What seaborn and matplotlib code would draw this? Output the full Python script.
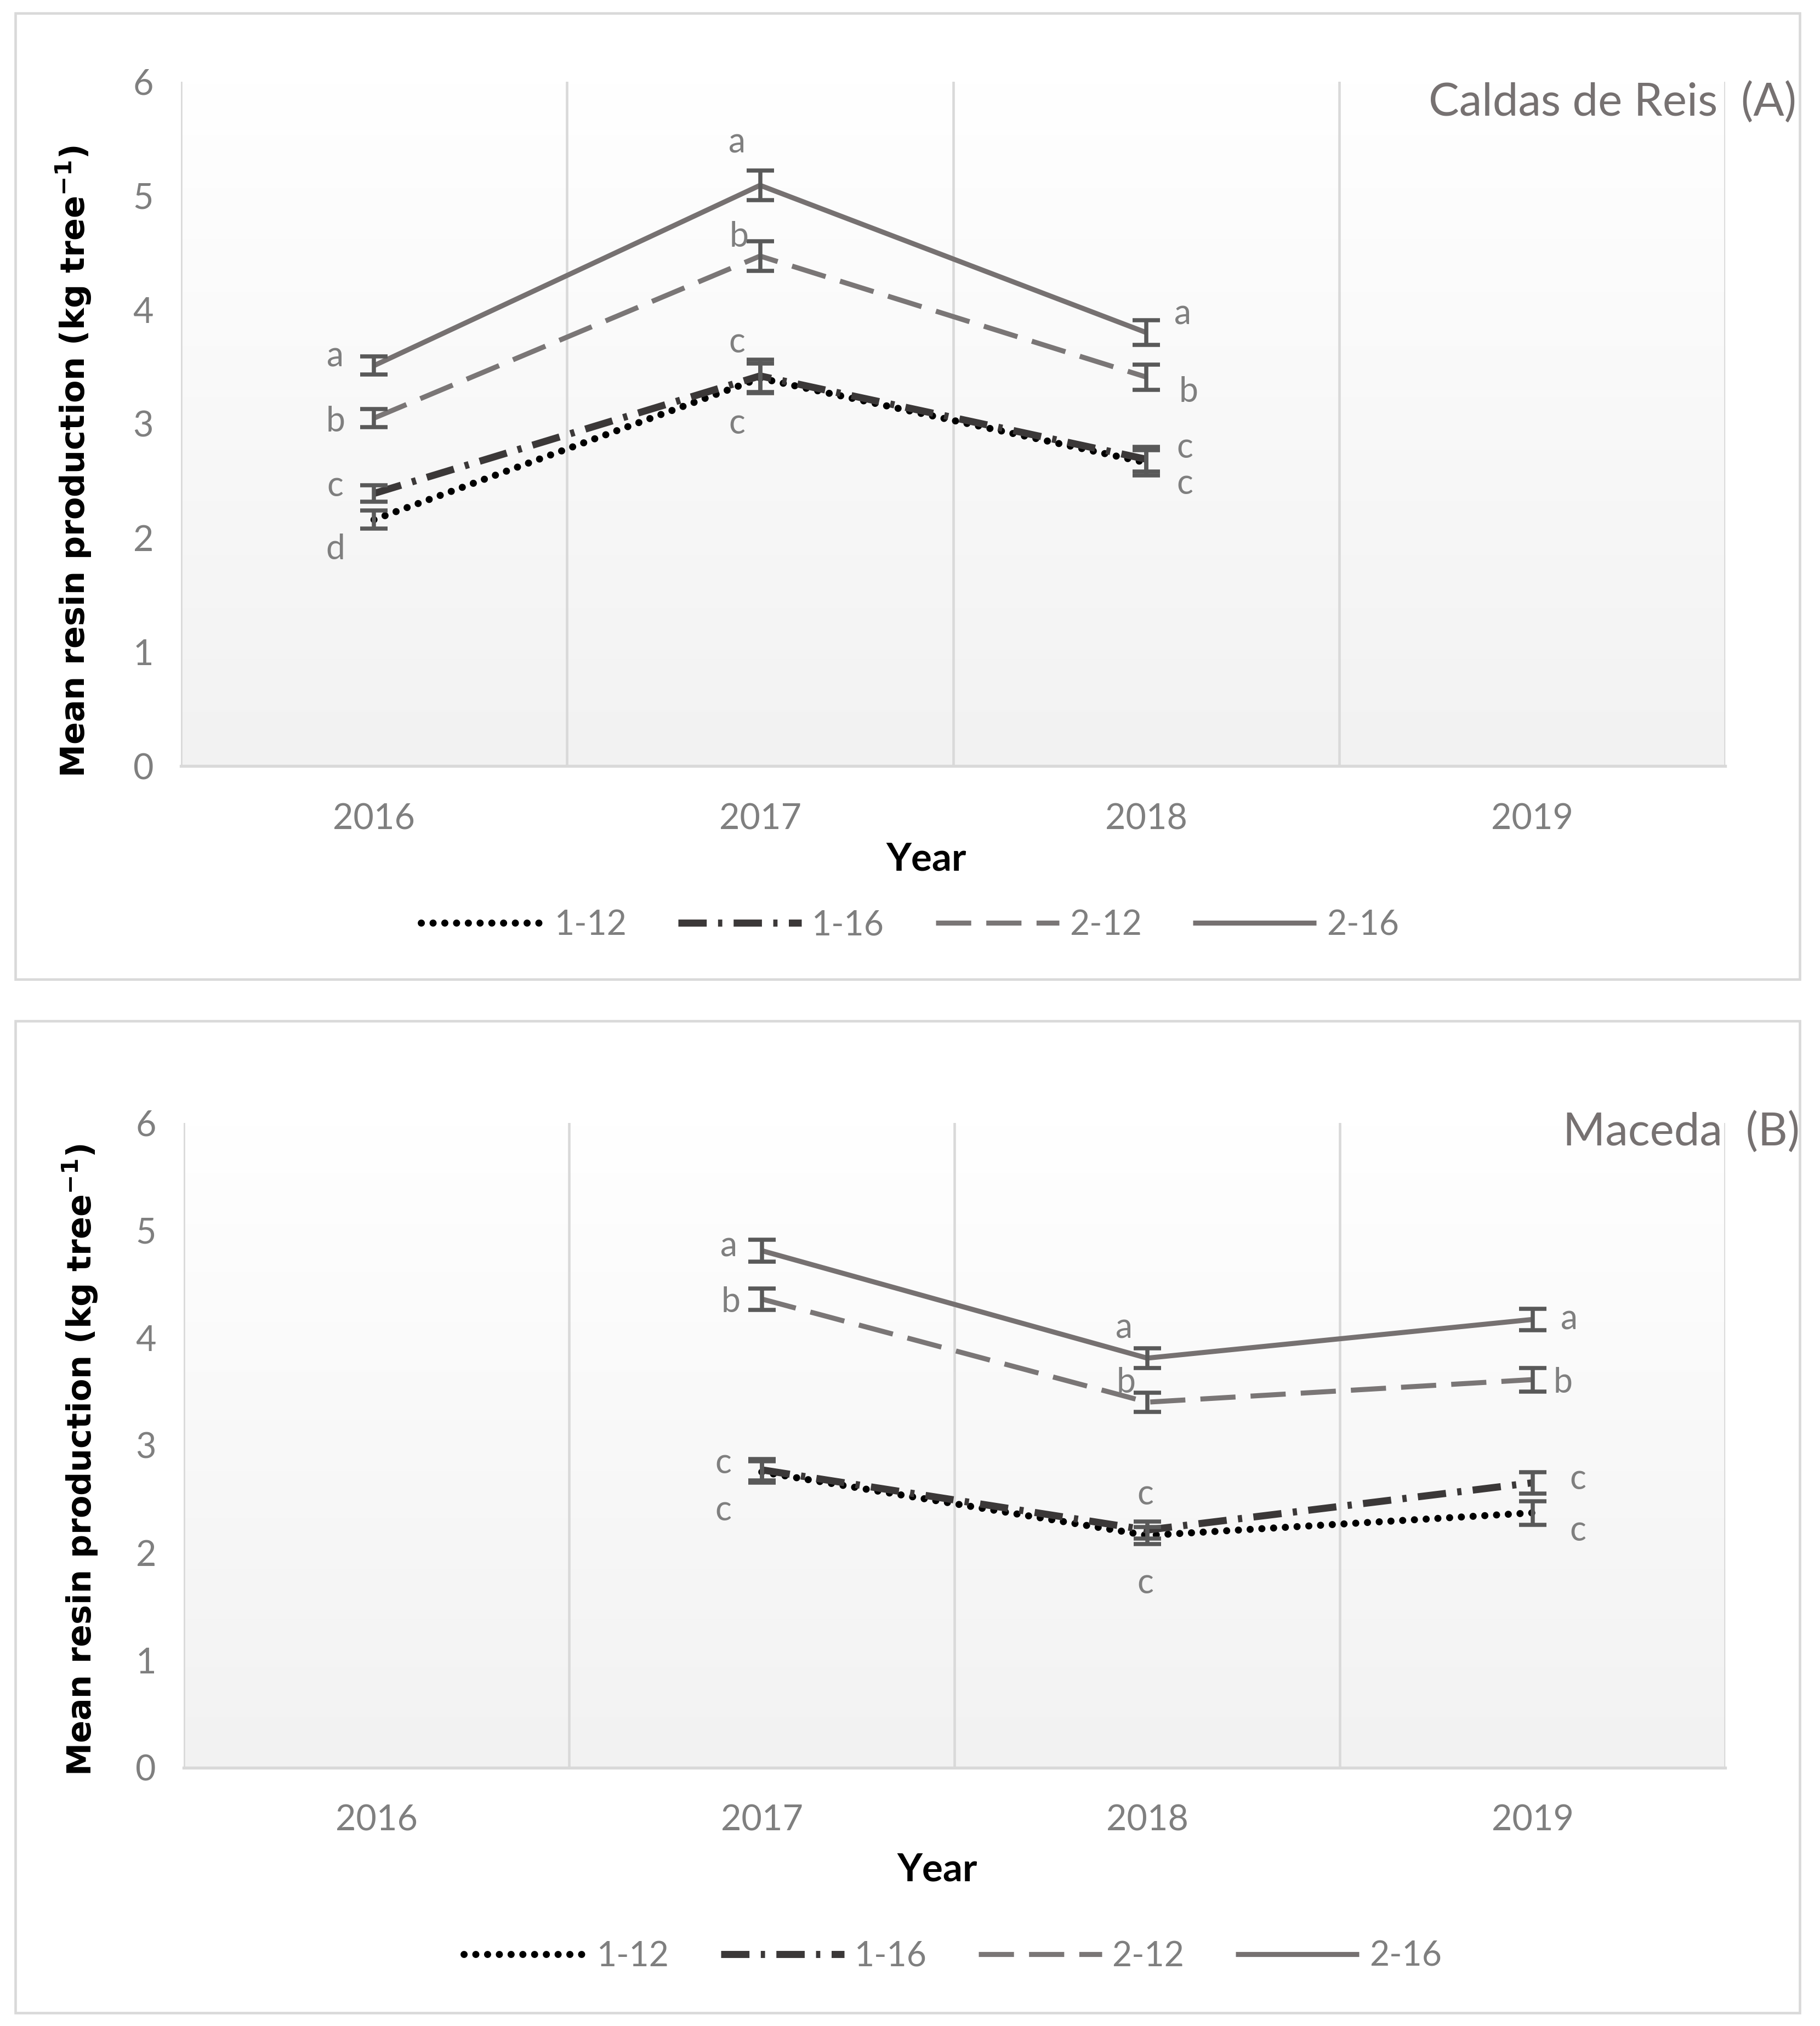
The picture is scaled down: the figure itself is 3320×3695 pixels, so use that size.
import numpy as np
import pandas as pd
import matplotlib
matplotlib.use("Agg")
import matplotlib.pyplot as plt
import seaborn as sns
from matplotlib.patches import Rectangle

# ---------------- data ----------------
years = ["2016", "2017", "2018", "2019"]
series = ["1-12", "1-16", "2-12", "2-16"]

# Panel A: Caldas de Reis
a_years = ["2016", "2017", "2018"]
a_1_12 = [2.16, 3.40, 2.66]
a_1_16 = [2.39, 3.42, 2.69]
a_2_12 = [3.05, 4.47, 3.41]
a_2_16 = [3.51, 5.09, 3.80]
a_err_1_12 = [0.08, 0.13, 0.11]
a_err_1_16 = [0.07, 0.14, 0.11]
a_err_2_12 = [0.08, 0.13, 0.11]
a_err_2_16 = [0.08, 0.13, 0.11]
# letters: (year, letter, y position, x offset)
a_letters = [("2016", "a", 3.59, -0.10), ("2016", "b", 3.02, -0.10),
             ("2016", "c", 2.45, -0.10), ("2016", "d", 1.90, -0.10),
             ("2017", "a", 5.46, -0.06), ("2017", "b", 4.64, -0.055),
             ("2017", "c", 3.71, -0.06), ("2017", "c", 3.00, -0.06),
             ("2018", "a", 3.96, 0.095), ("2018", "b", 3.28, 0.11),
             ("2018", "c", 2.79, 0.10), ("2018", "c", 2.47, 0.10)]

# Panel B: Maceda
b_years = ["2017", "2018", "2019"]
b_1_12 = [2.75, 2.16, 2.37]
b_1_16 = [2.77, 2.21, 2.65]
b_2_12 = [4.36, 3.40, 3.61]
b_2_16 = [4.81, 3.81, 4.17]
b_err_1_12 = [0.10, 0.08, 0.11]
b_err_1_16 = [0.10, 0.08, 0.10]
b_err_2_12 = [0.10, 0.09, 0.11]
b_err_2_16 = [0.10, 0.09, 0.10]
b_letters = [("2017", "a", 4.85, -0.085), ("2017", "b", 4.33, -0.08),
             ("2017", "c", 2.83, -0.10), ("2017", "c", 2.39, -0.10),
             ("2018", "a", 4.09, -0.06), ("2018", "b", 3.58, -0.055),
             ("2018", "c", 2.54, -0.005), ("2018", "c", 1.71, -0.005),
             ("2019", "a", 4.17, 0.095), ("2019", "b", 3.58, 0.078),
             ("2019", "c", 2.68, 0.117), ("2019", "c", 2.20, 0.117)]

# ---------------- style ----------------
sns.set_theme(style="white")
plt.rcParams["font.family"] = ["Lato", "DejaVu Sans"]

TXT_GRAY = "#7f7f7f"
GRID = "#d9d9d9"
styles = {
    "1-12": dict(color="#000000", lw=3.1, ls=(0, (0.01, 1.65)), cap="round"),
    "1-16": dict(color="#3b3838", lw=3.1, ls=(0, (4.0, 1.6, 0.6, 1.6)), cap="butt"),
    "2-12": dict(color="#7a7676", lw=2.2, ls=(0, (7.0, 3.0)), cap="butt"),
    "2-16": dict(color="#767171", lw=2.2, ls="-", cap="butt"),
}

W, H = 3320, 3695
DPI = 300
fig = plt.figure(figsize=(W / DPI, H / DPI), dpi=DPI)
fig.patch.set_facecolor("white")


def draw_panel(ax, yrs, vals, errs, letters, title, box, legend_xy, ylab_xy, year_xy, title_xy):
    # outer border
    fig.patches.append(Rectangle((box[0], box[1]), box[2], box[3], transform=fig.transFigure,
                                 fill=False, edgecolor=GRID, lw=1.1, zorder=0))
    # gradient background
    grad = np.linspace(0, 1, 256).reshape(-1, 1)
    ax.imshow(grad, extent=[0, 1, 0, 1], transform=ax.transAxes, aspect="auto",
              cmap=matplotlib.colors.LinearSegmentedColormap.from_list("g", ["#f2f2f2", "#ffffff"]),
              origin="lower", zorder=0)
    pos = [years.index(y) for y in yrs]
    for s in series:
        st = styles[s]
        df = pd.DataFrame({"x": pos, "y": vals[s]})
        sns.lineplot(data=df, x="x", y="y", ax=ax, color=st["color"], lw=st["lw"],
                     linestyle=st["ls"], label=s, zorder=3)
        ln = ax.lines[-1]
        ln.set_dash_capstyle(st["cap"])
        ln.set_solid_capstyle("butt")
        ax.errorbar(pos, vals[s], yerr=errs[s], fmt="none", ecolor="#595959",
                    elinewidth=1.8, capsize=6, capthick=1.8, zorder=4)
    for (yr, lt, yv, dx) in letters:
        ax.text(years.index(yr) + dx, yv, lt, ha="center", va="center",
                fontsize=15, color=TXT_GRAY, zorder=5)
    ax.set_xlim(-0.5, 3.5)
    ax.set_ylim(0, 6)
    ax.set_yticks(range(0, 7))
    ax.set_xticks(range(len(years)))
    ax.set_xticklabels(years)
    ax.tick_params(axis="both", length=0, labelsize=15.5, labelcolor=TXT_GRAY)
    ax.tick_params(axis="y", pad=12)
    ax.tick_params(axis="x", pad=16)
    for b in np.arange(-0.5, 4.0, 1.0):
        ax.axvline(b, color=GRID, lw=1.1, zorder=1)
    for sp in ["top", "right", "left"]:
        ax.spines[sp].set_visible(False)
    ax.spines["bottom"].set_color(GRID)
    ax.spines["bottom"].set_linewidth(1.3)
    ax.set_xlabel("")
    ax.set_ylabel("")
    fig.text(ylab_xy[0], ylab_xy[1], "Mean resin production (kg tree$^{\\mathbf{-1}}$)",
             rotation=90, ha="center", va="center", fontsize=14.5, fontweight="bold",
             family="DejaVu Sans", color="black")
    fig.text(year_xy[0], year_xy[1], "Year", ha="center", va="center", fontsize=17,
             fontweight="bold", color="black")
    fig.text(title_xy[0], title_xy[1], title, ha="right", va="center", fontsize=20,
             color="#767171")
    h, l = ax.get_legend_handles_labels()
    ax.get_legend().remove()
    fig.legend(h, l, loc="center", bbox_to_anchor=legend_xy, ncol=4, frameon=False,
               fontsize=15, labelcolor=TXT_GRAY, handlelength=3.6, handletextpad=0.3,
               columnspacing=1.5)


axA = fig.add_axes([0.0994, 0.6218, 0.9480 - 0.0994, 0.9598 - 0.6218])
axB = fig.add_axes([0.1009, 0.1276, 0.9480 - 0.1009, 0.4458 - 0.1276])

draw_panel(axA, a_years,
           {"1-12": a_1_12, "1-16": a_1_16, "2-12": a_2_12, "2-16": a_2_16},
           {"1-12": a_err_1_12, "1-16": a_err_1_16, "2-12": a_err_2_12, "2-16": a_err_2_16},
           a_letters, "Caldas de Reis  (A)",
           box=(0.0085, 0.5166, 0.9805, 0.4770), legend_xy=(0.50, 0.5434),
           ylab_xy=(0.0405, 0.7723), year_xy=(0.509, 0.5759), title_xy=(0.987, 0.949))

draw_panel(axB, b_years,
           {"1-12": b_1_12, "1-16": b_1_16, "2-12": b_2_12, "2-16": b_2_16},
           {"1-12": b_err_1_12, "1-16": b_err_1_16, "2-12": b_err_2_12, "2-16": b_err_2_16},
           b_letters, "Maceda  (B)",
           box=(0.0085, 0.0064, 0.9805, 0.4898), legend_xy=(0.5234, 0.0344),
           ylab_xy=(0.044, 0.2793), year_xy=(0.515, 0.0772), title_xy=(0.989, 0.4407))

fig.savefig("out.png", dpi=DPI)
